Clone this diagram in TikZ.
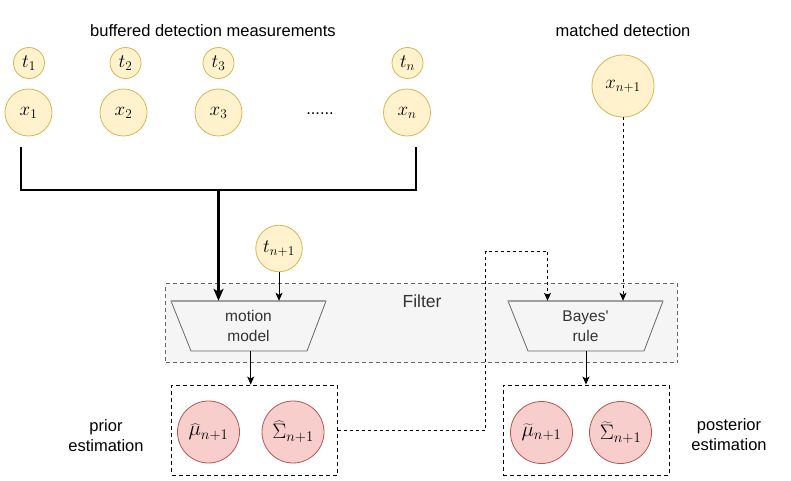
\RequirePackage{fix-cm}
\documentclass[tikz,border=0pt]{standalone}
\usepackage{fontspec}
\setmainfont{Liberation Sans}
\DeclareMathSizes{19}{19}{13.3}{9.5}
\DeclareMathSizes{21}{21}{14.7}{10.5}
\usetikzlibrary{arrows.meta,calc}
\definecolor{yfill}{HTML}{FFF2CC}
\definecolor{ydraw}{HTML}{D6B656}
\definecolor{rfill}{HTML}{F8CECC}
\definecolor{rdraw}{HTML}{B85450}
\definecolor{gfill}{HTML}{F5F5F5}
\definecolor{gdraw}{HTML}{666666}
\definecolor{gtext}{HTML}{333333}
\begin{document}
\begin{tikzpicture}[x=1pt,y=-1pt,
  ycirc/.style={circle,draw=ydraw,fill=yfill,line width=0.8pt,inner sep=0pt,font=\fontsize{19}{22}\selectfont},
  tcirc/.style={ycirc,minimum size=31pt},
  xcirc/.style={ycirc,minimum size=47pt},
  rcirc/.style={circle,draw=rdraw,fill=rfill,line width=0.8pt,inner sep=0pt,minimum size=62pt,font=\fontsize{21}{24}\selectfont},
  lbl/.style={font=\fontsize{16.5}{20}\selectfont,align=center,inner sep=0pt},
  traptext/.style={font=\fontsize{15.5}{20}\selectfont,align=center,text=gtext,minimum width=155pt,minimum height=50pt,inner sep=0pt},
  trapline/.style={draw=gdraw,fill=gfill,line width=0.8pt,line join=miter},
  dashbox/.style={draw=black,dash pattern=on 4pt off 3pt,line width=0.9pt,inner sep=0pt},
  conn/.style={draw=black,line width=1pt,-{Stealth[length=8pt,width=7pt,inset=2pt]}},
  dconn/.style={conn,dash pattern=on 3pt off 3pt},
  thickline/.style={draw=black,line width=2.2pt},
  thickconn/.style={thickline,-{Stealth[length=12pt,width=10pt,inset=3pt]}}
]
\useasboundingbox (0,0) rectangle (791,481);

% Filter box
\node[draw=gdraw,fill=gfill,dash pattern=on 4pt off 3pt,line width=0.8pt,minimum width=512pt,minimum height=79pt,inner sep=0pt] (filter) at (421.5,323) {};
\node[font=\fontsize{17.5}{20}\selectfont,text=gtext,inner sep=0pt] (filterlbl) at (422,301) {Filter};

% trapezoids
\draw[trapline] (171,301) -- (326,301) -- (307,351) -- (191,351) -- cycle;
\draw[draw=gray!75,line width=1.6pt] (171,301) -- (326,301);
\node[traptext] (mm) at (248.5,326) {motion\\model};
\draw[trapline] (508,301) -- (663,301) -- (644,351) -- (528,351) -- cycle;
\draw[draw=gray!75,line width=1.6pt] (508,301) -- (663,301);
\node[traptext] (bayes) at (585.5,326) {Bayes\textquotesingle\\rule};

% labels
\node[lbl] (buf) at (213,31) {buffered detection measurements};
\node[lbl] (match) at (623,31) {matched detection};
\node[lbl] (priorlbl) at (106,436) {prior\\estimation};
\node[lbl] (postlbl) at (729,435) {posterior\\estimation};

% yellow circles
\node[tcirc] (t1) at (29,63) {$t_1$};
\node[tcirc] (t2) at (125.5,63) {$t_2$};
\node[tcirc] (t3) at (218.5,63) {$t_3$};
\node[tcirc] (tn) at (407.5,63) {$t_n$};
\node[xcirc] (x1) at (28.5,112.5) {$x_1$};
\node[xcirc] (x2) at (123.5,112.5) {$x_2$};
\node[xcirc] (x3) at (218.5,112.5) {$x_3$};
\node[xcirc] (xn) at (407,112.5) {$x_n$};
\node[lbl] (dots) at (320,114) {......};
\node[ycirc,minimum size=62pt] (xn1) at (623,86) {$x_{n+1}$};
\node[ycirc,minimum size=46.5pt] (tn1) at (279,248.5) {$t_{n+1}$};

% estimation boxes
\node[dashbox,minimum width=165.5pt,minimum height=90pt] (prior) at (254.5,430) {};
\node[dashbox,minimum width=166pt,minimum height=90pt] (post) at (586,430) {};
\node[rcirc] (muh) at (208.5,432) {$\widehat{\mu}_{n+1}$};
\node[rcirc] (sgh) at (293,432) {$\widehat{\Sigma}_{n+1}$};
\node[rcirc] (mut) at (541.5,432.5) {$\widetilde{\mu}_{n+1}$};
\node[rcirc] (sgt) at (620.5,432.5) {$\widetilde{\Sigma}_{n+1}$};

% bracket and thick arrow
\coordinate (bl) at (21.3,148);
\coordinate (br) at (416,148);
\coordinate (bm) at (218.5,190);
\draw[thickline,line cap=rect] (bl) |- (bm) -| (br);
\draw[thickconn] (bm) -- (bm |- mm.north);

% thin arrows
\draw[conn] (tn1.south) -- (tn1.south |- mm.north);
\draw[conn] (250.7,351) coordinate (mmout) -- (mmout |- prior.north);
\draw[conn] (586,351) coordinate (bout) -- (bout |- post.north);
\draw[dconn] (xn1.south) -- (xn1.south |- bayes.north);

% dashed loop
\coordinate (loopA) at (485.5,251);
\coordinate (loopB) at (547.5,251);
\draw[dconn] (prior.east) -| (loopA) -- (loopB) -- (loopB |- bayes.north);
\end{tikzpicture}
\end{document}
